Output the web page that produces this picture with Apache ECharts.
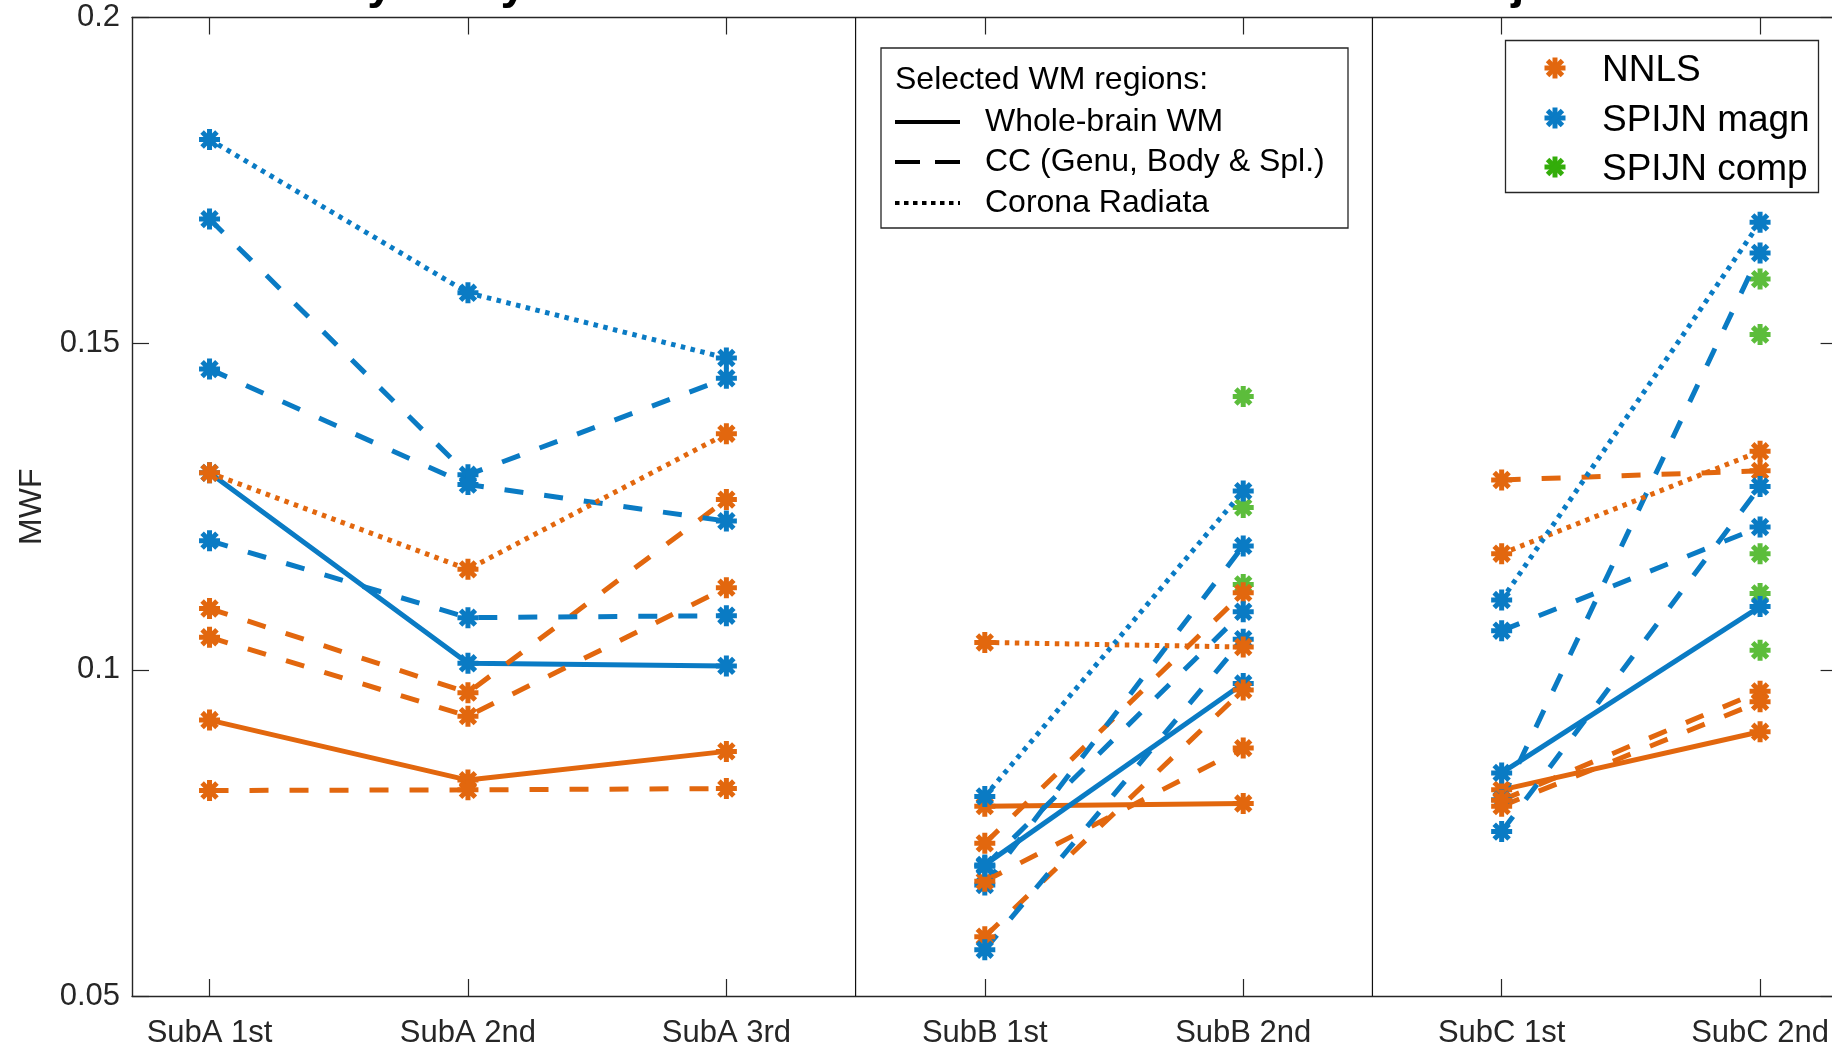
<!DOCTYPE html>
<html><head><meta charset="utf-8">
<script src="https://cdn.jsdelivr.net/npm/echarts@6/dist/echarts.min.js"></script>
<style>html,body{margin:0;padding:0;background:#fff}#c{width:1832px;height:1048px}</style>
</head><body><div id="c"></div>
<script>
// ---- data ----
const categories = ['SubA 1st','SubA 2nd','SubA 3rd','SubB 1st','SubB 2nd','SubC 1st','SubC 2nd'];
const subjectGroups = [[0,1,2],[3,4],[5,6]];
const yTicks = [0.05, 0.1, 0.15, 0.2];
const separators = [3.5, 5.5];

// NNLS (orange)
const nnlsWB  = [0.0923, 0.0831, 0.0875, 0.0791, 0.0795, 0.0816, 0.0905];
const nnlsCC1 = [0.1094, 0.0965, 0.1261, 0.0734, 0.1118, 0.1291, 0.1305];
const nnlsCC2 = [0.1050, 0.0929, 0.1126, 0.0676, 0.0880, 0.0800, 0.0967];
const nnlsCC3 = [0.0815, 0.0816, 0.0818, 0.0591, 0.0969, 0.0791, 0.0951];
const nnlsCR  = [0.1302, 0.1154, 0.1362, 0.1042, 0.1035, 0.1178, 0.1335];
// SPIJN magn (blue)
const magWB  = [0.1302, 0.1010, 0.1006, 0.0701, 0.0979, 0.0842, 0.1097];
const magCC1 = [0.1691, 0.1299, 0.1447, 0.0670, 0.1190, 0.0801, 0.1639];
const magCC2 = [0.1461, 0.1284, 0.1228, 0.0699, 0.1089, 0.1060, 0.1219];
const magCC3 = [0.1198, 0.1080, 0.1083, 0.0571, 0.1047, 0.0752, 0.1281];
const magCR  = [0.1813, 0.1578, 0.1478, 0.0806, 0.1274, 0.1107, 0.1686];
// SPIJN comp (green), only at the 2nd scan of SubB and SubC
const compSubB2 = [0.1419, 0.1249, 0.1131];
const compSubC2 = [0.1599, 0.1514, 0.1178, 0.1117, 0.1030];

const methodNames = ['NNLS', 'SPIJN magn', 'SPIJN comp'];
const regionNames = ['Whole-brain WM', 'CC (Genu, Body & Spl.)', 'Corona Radiata'];
const legendTitle = 'Selected WM regions:';
const titleText = 'Stability analysis of MWF: between-scan and between-subject results';

// ---- styles ----
const ORANGE = '#E2670E', BLUE = '#0A7BC4', GREEN = '#33AD0A', AX = '#262626';
const FONT = '"Liberation Sans", Arial, Helvetica, sans-serif';
const DASH = [19, 21], DOT = [4.5, 5.5];
const AST = 'path://M0,-10L0,10M-10,0L10,0M-7.07,-7.07L7.07,7.07M-7.07,7.07L7.07,-7.07';
const LW = 5, MW = 5, MS = 21;

function lineSeries(values, color, dash) {
  return subjectGroups.map(g => ({
    type: 'line',
    data: g.map(i => [i + 1, values[i]]),
    symbol: AST, symbolSize: MS, showAllSymbol: true,
    itemStyle: {color: color, borderColor: color, borderWidth: MW},
    lineStyle: {color: color, width: LW, type: dash, cap: 'butt'},
    emphasis: {disabled: true}, silent: true, animation: false
  }));
}

const series = [];
separators.forEach(x => series.push({
  type: 'line', data: [[x, yTicks[0]], [x, yTicks[yTicks.length - 1]]], symbol: 'none',
  lineStyle: {color: '#111', width: 1.2}, silent: true, animation: false
}));
series.push({
  type: 'scatter',
  data: compSubB2.map(v => [5, v]).concat(compSubC2.map(v => [7, v])),
  symbol: AST, symbolSize: MS,
  itemStyle: {color: GREEN, borderColor: GREEN, borderWidth: MW},
  emphasis: {disabled: true}, silent: true, animation: false
});
const pairs = [
  [nnlsWB, magWB, 'solid'], [nnlsCC1, magCC1, DASH], [nnlsCC2, magCC2, DASH],
  [nnlsCC3, magCC3, DASH], [nnlsCR, magCR, DOT]
];
pairs.forEach(p => {
  series.push(...lineSeries(p[0], ORANGE, p[2]));
  series.push(...lineSeries(p[1], BLUE, p[2]));
});

const tickIdx = categories.map((c, i) => i + 1);
const axLine = {show: true, lineStyle: {color: AX, width: 1.4}};
const axTick = {show: true, inside: true, length: 17, lineStyle: {color: AX, width: 1.2}};

// ---- legend graphics ----
function asterisk(cx, cy, color) {
  const r = 10.5, d = r * 0.7071, s = {stroke: color, lineWidth: MW};
  return [
    {type: 'line', z: 102, shape: {x1: cx, y1: cy - r, x2: cx, y2: cy + r}, style: s},
    {type: 'line', z: 102, shape: {x1: cx - r, y1: cy, x2: cx + r, y2: cy}, style: s},
    {type: 'line', z: 102, shape: {x1: cx - d, y1: cy - d, x2: cx + d, y2: cy + d}, style: s},
    {type: 'line', z: 102, shape: {x1: cx - d, y1: cy + d, x2: cx + d, y2: cy - d}, style: s}
  ];
}
const graphics = [
  {type: 'text', x: 985, y: -15, style: {text: titleText, font: 'bold 47px ' + FONT, fill: '#000', align: 'center', verticalAlign: 'middle'}},
  {type: 'rect', shape: {x: 881, y: 48, width: 467, height: 180}, style: {fill: '#fff', stroke: AX, lineWidth: 1.3}, z: 100},
  {type: 'text', x: 895, y: 80, z: 101, style: {text: legendTitle, font: '32px ' + FONT, fill: '#000', verticalAlign: 'middle'}},
  {type: 'line', z: 101, shape: {x1: 895, y1: 122, x2: 960, y2: 122}, style: {stroke: '#000', lineWidth: 4}},
  {type: 'line', z: 101, shape: {x1: 895, y1: 162, x2: 960, y2: 162}, style: {stroke: '#000', lineWidth: 4, lineDash: [25, 15]}},
  {type: 'line', z: 101, shape: {x1: 895, y1: 203, x2: 960, y2: 203}, style: {stroke: '#000', lineWidth: 4, lineDash: [4.5, 4.5]}},
  {type: 'rect', shape: {x: 1505.5, y: 40.5, width: 313, height: 152}, style: {fill: '#fff', stroke: AX, lineWidth: 1.3}, z: 100}
];
regionNames.forEach((t, i) => graphics.push({type: 'text', x: 985, y: [122, 162, 203][i], z: 101,
  style: {text: t, font: '32px ' + FONT, fill: '#000', verticalAlign: 'middle'}}));
const methodColors = [ORANGE, BLUE, GREEN];
methodNames.forEach((t, i) => {
  const y = [68, 118, 167][i];
  graphics.push(...asterisk(1555, y, methodColors[i]));
  graphics.push({type: 'text', x: 1602, y: y + 3, z: 101, style: {text: t, font: '37px ' + FONT, fill: '#000', verticalAlign: 'middle'}});
});

const chart = echarts.init(document.getElementById('c'), null, {renderer: 'canvas'});
chart.setOption({
  backgroundColor: '#fff',
  animation: false,
  grid: {left: 132, top: 17.5, width: 1705.6, height: 978.5, outerBoundsMode: 'none', containLabel: false},
  xAxis: [
    {type: 'value', min: 0.7, max: 7.3, position: 'bottom', axisLine: axLine,
     axisTick: Object.assign({customValues: tickIdx}, axTick),
     axisLabel: {customValues: tickIdx, formatter: v => categories[Math.round(v) - 1] || '',
                 fontSize: 31, fontFamily: FONT, color: AX, margin: 22},
     splitLine: {show: false}},
    {type: 'value', min: 0.7, max: 7.3, position: 'top', axisLine: axLine,
     axisTick: Object.assign({customValues: tickIdx}, axTick),
     axisLabel: {show: false}, splitLine: {show: false}}
  ],
  yAxis: [
    {type: 'value', min: 0.05, max: 0.2, interval: 0.05, position: 'left', axisLine: axLine, axisTick: axTick,
     axisLabel: {fontSize: 31, fontFamily: FONT, color: AX, margin: 12, formatter: v => String(+v.toFixed(2))},
     splitLine: {show: false},
     name: 'MWF', nameLocation: 'middle', nameRotate: 90, nameGap: 84,
     nameTextStyle: {fontSize: 32, fontFamily: FONT, color: AX}},
    {type: 'value', min: 0.05, max: 0.2, interval: 0.05, position: 'right', axisLine: axLine, axisTick: axTick,
     axisLabel: {show: false}, splitLine: {show: false}}
  ],
  series: series,
  graphic: graphics
});
</script></body></html>
